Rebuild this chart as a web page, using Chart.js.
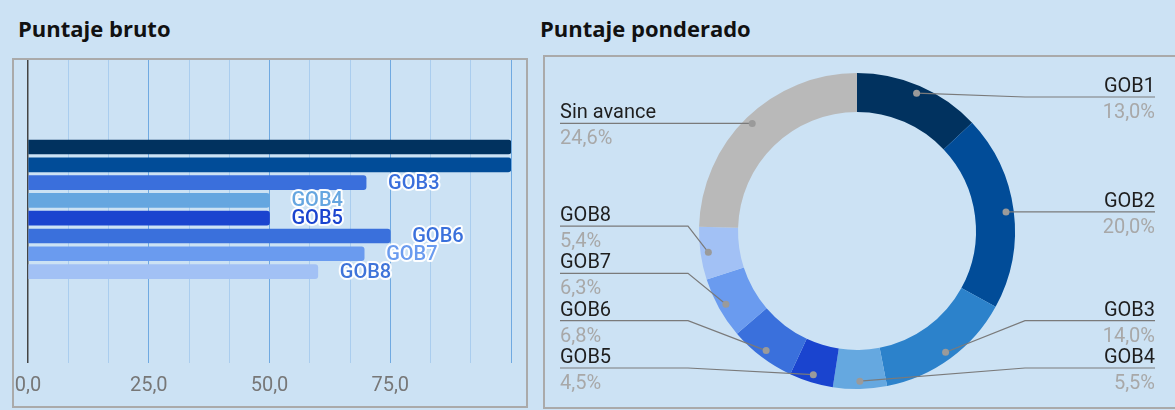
<!DOCTYPE html>
<html>
<head>
<meta charset="utf-8">
<script src="https://cdn.jsdelivr.net/npm/chart.js@4.4.1/dist/chart.umd.min.js"></script>
<style>
  html, body { margin: 0; padding: 0; }
  body { width: 1175px; height: 410px; background: #cce2f4; position: relative; overflow: hidden; font-family: Roboto, sans-serif; }
  .title { position: absolute; font-family: 'Open Sans', sans-serif; font-weight: 700; font-size: 22px; color: #111; line-height: 24px; letter-spacing: 0px; }
  .box { position: absolute; border: 2px solid #aaa; box-sizing: border-box; }
  canvas { position: absolute; }
</style>
</head>
<body>
<div class="title" style="left:18px; top:16px;">Puntaje bruto</div>
<div class="title" style="left:540px; top:16px;">Puntaje ponderado</div>
<div class="box" style="left:12px; top:58px; width:516px; height:350px;"></div>
<div class="box" style="left:543px; top:55px; width:640px; height:354px;"></div>
<div style="position:absolute; left:14px; top:60px; width:512px; height:346px;"><canvas id="bar"></canvas></div>
<div style="position:absolute; left:545px; top:57px; width:630px; height:350px;"><canvas id="donut"></canvas></div>
<script>
// ---- Data ----
const categories = ['GOB1', 'GOB2', 'GOB3', 'GOB4', 'GOB5', 'GOB6', 'GOB7', 'GOB8'];
const rawScores = [100, 100, 70, 50, 50, 75, 69.6, 60];
const barColors = ['#01325f', '#014c98', '#3a6fdc', '#65a6e0', '#1a44cf', '#3a70dc', '#6a9bef', '#a2c1f5'];
const barLabelColors = ['#01325f', '#014c98', '#3a6fdc', '#65a6e0', '#1a44cf', '#3a70dc', '#6a9bef', '#3f74d9'];
const xTickValues = [0, 25, 50, 75];

const donutLabels = ['GOB1', 'GOB2', 'GOB3', 'GOB4', 'GOB5', 'GOB6', 'GOB7', 'GOB8', 'Sin avance'];
const weighted = [13.0, 20.0, 14.0, 5.5, 4.5, 6.8, 6.3, 5.4, 24.6];
const donutColors = ['#01325f', '#014c98', '#2c82cb', '#65a8e0', '#1a44cf', '#3a70dc', '#6a9bef', '#a2c1f5', '#b9b9b9'];

const fmt = v => v.toFixed(1).replace('.', ',');

// ---- Bar chart ----
const barLabelPlugin = {
  id: 'barLabels',
  afterDatasetsDraw(chart) {
    const ctx = chart.ctx;
    const meta = chart.getDatasetMeta(0);
    ctx.save();
    ctx.font = '500 20px Roboto';
    ctx.textBaseline = 'middle';
    ctx.textAlign = 'left';
    ctx.lineJoin = 'round';
    meta.data.forEach((el, i) => {
      const x = el.x + 22;
      const y = el.y + 1;
      if (x + 40 > chart.chartArea.right) return;
      ctx.lineWidth = 4;
      ctx.strokeStyle = 'rgba(255,255,255,0.95)';
      ctx.strokeText(categories[i], x, y);
      ctx.fillStyle = barLabelColors[i];
      ctx.fillText(categories[i], x, y);
    });
    ctx.restore();
  }
};

new Chart(document.getElementById('bar'), {
  type: 'bar',
  data: {
    datasets: [{
      data: rawScores.map((v, i) => ({ x: v, y: i })),
      backgroundColor: barColors,
      barThickness: 14,
      borderRadius: { topRight: 3, bottomRight: 3 },
      borderSkipped: false
    }]
  },
  options: {
    indexAxis: 'y',
    responsive: true,
    maintainAspectRatio: false,
    animation: false,
    layout: { padding: { left: 14, right: 15, top: 0, bottom: 0 } },
    plugins: { legend: { display: false }, tooltip: { enabled: false } },
    scales: {
      y: {
        type: 'linear', reverse: true, min: -4.89, max: 12.14,
        offset: false,
        display: false
      },
      x: {
        type: 'linear', min: 0, max: 100,
        border: { display: false },
        grid: {
          drawTicks: false,
          color: c => c.index === 0 ? '#444' : (c.index % 3 === 0 ? '#6fa9e1' : '#aacdee'),
          lineWidth: c => c.index === 0 ? 1.5 : 1
        },
        afterFit: s => { s.height = 43; s.paddingLeft = 0; s.paddingRight = 0; },
        afterBuildTicks: s => {
          const t = [];
          for (let i = 0; i <= 12; i++) t.push({ value: i * 100 / 12 });
          s.ticks = t;
        },
        ticks: {
          autoSkip: false, maxRotation: 0, padding: 11,
          color: '#777',
          font: { family: 'Roboto', size: 20 },
          callback: (v, i) => {
            const tv = xTickValues.find(t => Math.abs(t - v) < 1e-6);
            return tv !== undefined ? fmt(tv) : '';
          }
        }
      }
    }
  },
  plugins: [barLabelPlugin]
});

// ---- Doughnut ----
const donutLabelPlugin = {
  id: 'donutLabels',
  afterDraw(chart) {
    const ctx = chart.ctx;
    const meta = chart.getDatasetMeta(0);
    const cv = chart.canvas.getBoundingClientRect();
    const ox = cv.left, oy = cv.top; // page offset
    const items = meta.data.map((arc, i) => {
      const mid = (arc.startAngle + arc.endAngle) / 2;
      const r = arc.innerRadius + 0.8 * (arc.outerRadius - arc.innerRadius);
      const px = arc.x + Math.cos(mid) * r;
      const py = arc.y + Math.sin(mid) * r;
      return { i, px, py, right: Math.cos(mid) >= 0, ly: py };
    });
    const topLim = 97 - oy, botLim = 368 - oy, gap = 47.3;
    [true, false].forEach(side => {
      const grp = items.filter(it => it.right === side).sort((a, b) => a.py - b.py);
      grp.forEach(it => { it.ly = Math.min(botLim, Math.max(topLim, it.py)); });
      for (let k = grp.length - 2; k >= 0; k--) grp[k].ly = Math.min(grp[k].ly, grp[k + 1].ly - gap);
      for (let k = 1; k < grp.length; k++) grp[k].ly = Math.max(grp[k].ly, grp[k - 1].ly + gap);
    });
    ctx.save();
    items.forEach(it => {
      const textX = it.right ? 1155 - ox : 560 - ox;
      const cornerX = it.right ? 1025 - ox : 688 - ox;
      ctx.strokeStyle = '#7a7a7a';
      ctx.lineWidth = 1.2;
      ctx.beginPath();
      ctx.moveTo(textX, it.ly);
      ctx.lineTo(cornerX, it.ly);
      ctx.lineTo(it.px, it.py);
      ctx.stroke();
      ctx.fillStyle = '#9a9a9a';
      ctx.beginPath();
      ctx.arc(it.px, it.py, 3.5, 0, Math.PI * 2);
      ctx.fill();
      ctx.textAlign = it.right ? 'right' : 'left';
      ctx.textBaseline = 'alphabetic';
      ctx.font = '400 20px Roboto';
      ctx.fillStyle = '#1e1e1e';
      ctx.fillText(donutLabels[it.i], textX, it.ly - 5);
      ctx.fillStyle = '#a8a8a8';
      ctx.fillText(fmt(weighted[it.i]) + '%', textX, it.ly + 21);
    });
    ctx.restore();
  }
};

new Chart(document.getElementById('donut'), {
  type: 'doughnut',
  data: {
    labels: donutLabels,
    datasets: [{ data: weighted, backgroundColor: donutColors, borderWidth: 0 }]
  },
  options: {
    responsive: true,
    maintainAspectRatio: false,
    animation: false,
    cutout: '75.3%',
    layout: { padding: { left: 154, right: 160, top: 16, bottom: 18 } },
    plugins: { legend: { display: false }, tooltip: { enabled: false } }
  },
  plugins: [donutLabelPlugin]
});
</script>
</body>
</html>
